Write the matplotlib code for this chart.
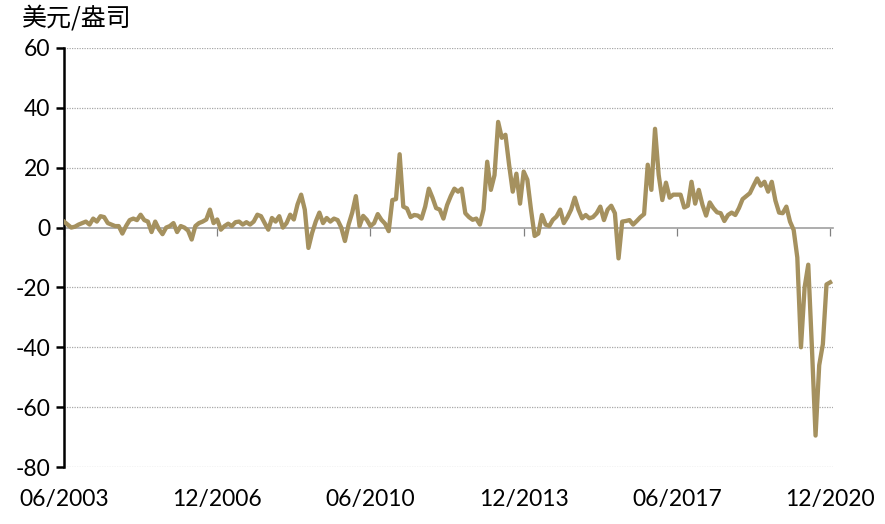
import matplotlib
matplotlib.use("Agg")
import matplotlib.pyplot as plt
import numpy as np

plt.rcParams['font.family'] = ['Lato', 'Noto Sans CJK SC', 'DejaVu Sans']

unit_label = "美元/盎司"
tick_months = [0, 42, 84, 126, 168, 210]
tick_labels = ["06/2003", "12/2006", "06/2010", "12/2013", "06/2017", "12/2020"]
y_ticks = [60, 40, 20, 0, -20, -40, -60, -80]

values = [
    2, 1, 0, 0.3, 1, 1.5, 2, 1, 3, 2,
    3.8, 3.5, 1.5, 1, 0.5, 0.5, -2, 0.5, 2.5, 3,
    2.5, 4.3, 2.5, 2, -1.5, 2, -0.5, -2.2, 0, 0.5,
    1.5, -1.5, 0.5, 0, -1, -4, 0.5, 1.5, 2, 2.7,
    6, 1.5, 2.7, -0.7, 0.5, 1.3, 0.5, 1.8, 2, 1,
    1.8, 1, 2, 4.3, 3.8, 1.5, -0.7, 3.2, 2, 3.8,
    0, 1.5, 4.3, 2.7, 7.7, 11, 6, -6.8, -1.8, 2,
    5, 1.5, 3.2, 2, 3, 2.5, 0, -4.5, 1, 5,
    10.5, 0.5, 3.9, 2.6, 0.5, 1.5, 4.5, 2.6, 1.3, -1.2,
    9.2, 9.5, 24.5, 7, 6.4, 3.5, 4.2, 4, 3, 7,
    13, 10, 6.5, 6, 3, 7.5, 10.5, 13, 12, 13,
    4.8, 3.5, 2.6, 3, 1, 6, 22, 12.6, 17.5, 35.3,
    30, 31, 21, 12, 18, 8, 18.7, 16, 6, -2.8,
    -2, 4.2, 1, 0.5, 2.6, 3.7, 6, 1.5, 3.5, 6,
    10, 6, 3.1, 4.2, 3.1, 3.5, 4.8, 7, 2.5, 6,
    7.3, 4.8, -10.3, 2, 2.2, 2.5, 1, 2.2, 3.5, 4.5,
    21, 12.6, 33, 17.6, 9.2, 15, 10, 11, 11, 11,
    6.7, 7.3, 15.3, 8, 12.6, 7.6, 4, 8.4, 6.5, 5.1,
    4.8, 2.2, 4.2, 5, 4.2, 6.5, 9.5, 10.5, 11.5, 14,
    16.4, 14, 15.3, 12, 15.3, 9, 5, 4.8, 7, 2,
    -0.8, -10, -40, -20, -12.4, -40, -69.5, -46, -39, -19,
    -18.3,
]

months = np.arange(len(values))

fig = plt.figure(figsize=(8.85, 5.24), dpi=100)
ax = fig.add_axes([64/885, 1-467/524, (832.7-64)/885, (467-48)/524])

for yv in y_ticks:
    if yv != 0:
        ax.axhline(yv, color='#a8a8a8', lw=0.9, ls=(0, (1.0, 1.0)), zorder=1)

ax.plot(months, values, color='#A5915F', lw=3.1, solid_joinstyle='round', zorder=3)

ax.set_xlim(0, 210.7)
ax.set_ylim(-80, 60)
ax.set_yticks(y_ticks)
ax.set_yticklabels([str(v) for v in y_ticks], fontsize=16.5)

ax.spines['top'].set_visible(False)
ax.spines['right'].set_visible(False)
ax.spines['left'].set_linewidth(1.8)
ax.spines['left'].set_color('black')
ax.spines['bottom'].set_position(('data', 0))
ax.spines['bottom'].set_color('#a0a0a0')
ax.spines['bottom'].set_linewidth(1.2)
ax.spines['bottom'].set_zorder(2)

ax.tick_params(axis='y', direction='out', length=6, width=1.8, color='black', pad=4)
ax.set_xticks(tick_months)
ax.tick_params(axis='x', direction='out', length=6, width=0.9, color='#808080', labelbottom=False)

sec = ax.secondary_xaxis('bottom')
sec.set_xticks(tick_months)
sec.set_xticklabels(tick_labels, fontsize=16.5)
sec.tick_params(length=0, pad=16)
sec.spines['bottom'].set_visible(False)

fig.text(22/885, 1-5/524, unit_label, fontsize=18, ha='left', va='top',
         family=['Noto Sans CJK SC', 'DejaVu Sans'])

fig.savefig('out.png', dpi=100)
